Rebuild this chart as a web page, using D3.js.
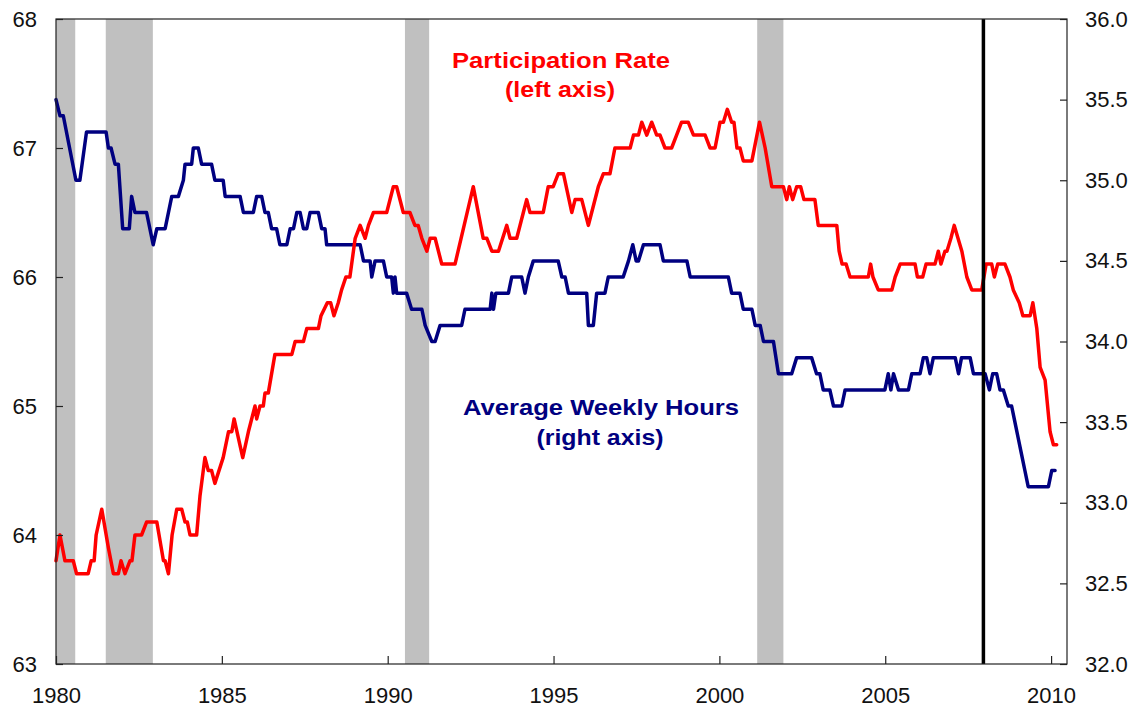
<!DOCTYPE html>
<html>
<head>
<meta charset="utf-8">
<script src="https://cdn.jsdelivr.net/npm/d3@7"></script>
<style>
  html, body { margin: 0; padding: 0; background: #fff; }
  svg { display: block; font-family: "Liberation Sans", Arial, sans-serif; }
</style>
</head>
<body>
<svg id="chart" width="1138" height="709"></svg>
<script>
// ---------- DATA ----------
const xTickYears = [1980, 1985, 1990, 1995, 2000, 2005, 2010];
const leftTicks = [63, 64, 65, 66, 67, 68];
const rightTicks = [32.0, 32.5, 33.0, 33.5, 34.0, 34.5, 35.0, 35.5, 36.0];

// recession periods [start, end] (decimal years)
const recessions = [[1980.0, 1980.58], [1981.5, 1982.92], [1990.52, 1991.25], [2001.14, 2001.93]];
const recessionStartLine = 2007.96;

// Labour force participation rate (%), left axis: [decimal year, value]
const participationRate = [
  [1980.00, 63.8], [1980.12, 64.0], [1980.27, 63.8], [1980.52, 63.8], [1980.62, 63.7], [1980.97, 63.7],
  [1981.06, 63.8], [1981.15, 63.8], [1981.21, 64.0], [1981.38, 64.2], [1981.58, 63.9], [1981.73, 63.7],
  [1981.88, 63.7], [1981.96, 63.8], [1982.08, 63.7], [1982.23, 63.8], [1982.29, 63.8], [1982.38, 64.0],
  [1982.58, 64.0], [1982.73, 64.1], [1983.04, 64.1], [1983.24, 63.8], [1983.29, 63.8], [1983.39, 63.7],
  [1983.50, 64.0], [1983.64, 64.2], [1983.79, 64.2], [1983.89, 64.1], [1983.96, 64.1], [1984.04, 64.0],
  [1984.24, 64.0], [1984.34, 64.3], [1984.49, 64.6], [1984.59, 64.5], [1984.69, 64.5], [1984.79, 64.4],
  [1985.04, 64.6], [1985.20, 64.8], [1985.30, 64.8], [1985.37, 64.9], [1985.63, 64.6], [1985.80, 64.8],
  [1986.00, 65.0], [1986.05, 64.9], [1986.15, 65.0], [1986.25, 65.0], [1986.30, 65.1], [1986.40, 65.1],
  [1986.60, 65.4], [1987.11, 65.4], [1987.21, 65.5], [1987.46, 65.5], [1987.56, 65.6], [1987.91, 65.6],
  [1987.99, 65.7], [1988.18, 65.8], [1988.28, 65.8], [1988.38, 65.7], [1988.51, 65.8], [1988.61, 65.9],
  [1988.74, 66.0], [1988.86, 66.0], [1989.02, 66.3], [1989.17, 66.4], [1989.32, 66.3], [1989.42, 66.4],
  [1989.57, 66.5], [1989.97, 66.5], [1990.17, 66.7], [1990.27, 66.7], [1990.47, 66.5], [1990.67, 66.5],
  [1990.82, 66.4], [1990.92, 66.4], [1991.03, 66.3], [1991.18, 66.2], [1991.28, 66.3], [1991.43, 66.3],
  [1991.63, 66.1], [1992.03, 66.1], [1992.58, 66.7], [1992.88, 66.3], [1992.99, 66.3], [1993.14, 66.2],
  [1993.34, 66.2], [1993.59, 66.4], [1993.69, 66.3], [1993.89, 66.3], [1994.09, 66.5], [1994.19, 66.6],
  [1994.29, 66.5], [1994.69, 66.5], [1994.84, 66.7], [1994.99, 66.7], [1995.14, 66.8], [1995.30, 66.8],
  [1995.55, 66.5], [1995.65, 66.6], [1995.85, 66.6], [1996.05, 66.4], [1996.15, 66.5], [1996.35, 66.7],
  [1996.50, 66.8], [1996.70, 66.8], [1996.85, 67.0], [1997.31, 67.0], [1997.41, 67.1], [1997.56, 67.1],
  [1997.66, 67.2], [1997.81, 67.1], [1997.96, 67.2], [1998.11, 67.1], [1998.21, 67.1], [1998.36, 67.0],
  [1998.56, 67.0], [1998.71, 67.1], [1998.86, 67.2], [1999.06, 67.2], [1999.22, 67.1], [1999.57, 67.1],
  [1999.72, 67.0], [1999.87, 67.0], [2000.02, 67.2], [2000.12, 67.2], [2000.24, 67.3], [2000.37, 67.2],
  [2000.44, 67.2], [2000.53, 67.0], [2000.62, 67.0], [2000.72, 66.9], [2000.98, 66.9], [2001.21, 67.2],
  [2001.38, 67.0], [2001.58, 66.7], [2001.93, 66.7], [2002.03, 66.6], [2002.11, 66.7], [2002.21, 66.6],
  [2002.33, 66.7], [2002.45, 66.7], [2002.55, 66.6], [2002.88, 66.6], [2002.98, 66.4], [2003.54, 66.4],
  [2003.61, 66.2], [2003.70, 66.1], [2003.82, 66.1], [2003.94, 66.0], [2004.49, 66.0], [2004.56, 66.1],
  [2004.63, 66.0], [2004.79, 65.9], [2005.20, 65.9], [2005.30, 66.0], [2005.45, 66.1], [2005.90, 66.1],
  [2005.97, 66.0], [2006.13, 66.0], [2006.23, 66.1], [2006.50, 66.1], [2006.60, 66.2], [2006.68, 66.1],
  [2006.80, 66.2], [2006.86, 66.2], [2006.98, 66.3], [2007.08, 66.4], [2007.31, 66.2], [2007.46, 66.0],
  [2007.61, 65.9], [2007.91, 65.9], [2008.04, 66.1], [2008.21, 66.1], [2008.29, 66.0], [2008.39, 66.1],
  [2008.61, 66.1], [2008.76, 66.0], [2008.86, 65.9], [2009.04, 65.8], [2009.15, 65.7], [2009.37, 65.7],
  [2009.45, 65.8], [2009.57, 65.6], [2009.67, 65.3], [2009.82, 65.2], [2009.97, 64.8], [2010.07, 64.7],
  [2010.17, 64.7]
];

// Average weekly hours, right axis: [decimal year, value]
const weeklyHours = [
  [1980.00, 35.5], [1980.12, 35.4], [1980.22, 35.4], [1980.60, 35.0], [1980.72, 35.0], [1980.92, 35.3],
  [1981.51, 35.3], [1981.58, 35.2], [1981.66, 35.2], [1981.78, 35.1], [1981.88, 35.1], [1982.01, 34.7],
  [1982.21, 34.7], [1982.28, 34.9], [1982.38, 34.8], [1982.73, 34.8], [1982.83, 34.7], [1982.93, 34.6],
  [1983.04, 34.7], [1983.29, 34.7], [1983.49, 34.9], [1983.69, 34.9], [1983.84, 35.0], [1983.89, 35.1],
  [1984.09, 35.1], [1984.14, 35.2], [1984.29, 35.2], [1984.39, 35.1], [1984.69, 35.1], [1984.79, 35.0],
  [1985.04, 35.0], [1985.10, 34.9], [1985.55, 34.9], [1985.65, 34.8], [1985.95, 34.8], [1986.05, 34.9],
  [1986.20, 34.9], [1986.30, 34.8], [1986.40, 34.8], [1986.50, 34.7], [1986.65, 34.7], [1986.75, 34.6],
  [1986.96, 34.6], [1987.06, 34.7], [1987.16, 34.7], [1987.26, 34.8], [1987.36, 34.8], [1987.46, 34.7],
  [1987.56, 34.7], [1987.66, 34.8], [1987.91, 34.8], [1988.01, 34.7], [1988.11, 34.7], [1988.16, 34.6],
  [1989.17, 34.6], [1989.27, 34.5], [1989.47, 34.5], [1989.52, 34.4], [1989.62, 34.5], [1989.87, 34.5],
  [1989.97, 34.4], [1990.12, 34.4], [1990.17, 34.3], [1990.22, 34.4], [1990.27, 34.3], [1990.57, 34.3],
  [1990.72, 34.2], [1991.03, 34.2], [1991.13, 34.1], [1991.33, 34.0], [1991.43, 34.0], [1991.58, 34.1],
  [1992.23, 34.1], [1992.33, 34.2], [1993.09, 34.2], [1993.14, 34.3], [1993.19, 34.2], [1993.26, 34.3],
  [1993.64, 34.3], [1993.74, 34.4], [1994.04, 34.4], [1994.14, 34.3], [1994.24, 34.4], [1994.39, 34.5],
  [1995.14, 34.5], [1995.25, 34.4], [1995.35, 34.4], [1995.45, 34.3], [1996.00, 34.3], [1996.05, 34.1],
  [1996.20, 34.1], [1996.30, 34.3], [1996.55, 34.3], [1996.65, 34.4], [1997.10, 34.4], [1997.26, 34.5],
  [1997.39, 34.6], [1997.49, 34.5], [1997.56, 34.5], [1997.71, 34.6], [1998.21, 34.6], [1998.31, 34.5],
  [1999.02, 34.5], [1999.12, 34.4], [2000.27, 34.4], [2000.37, 34.3], [2000.62, 34.3], [2000.72, 34.2],
  [2000.98, 34.2], [2001.08, 34.1], [2001.23, 34.1], [2001.33, 34.0], [2001.63, 34.0], [2001.78, 33.8],
  [2002.18, 33.8], [2002.33, 33.9], [2002.78, 33.9], [2002.93, 33.8], [2003.03, 33.8], [2003.13, 33.7],
  [2003.33, 33.7], [2003.44, 33.6], [2003.69, 33.6], [2003.79, 33.7], [2004.99, 33.7], [2005.09, 33.8],
  [2005.17, 33.7], [2005.25, 33.8], [2005.40, 33.7], [2005.70, 33.7], [2005.80, 33.8], [2006.05, 33.8],
  [2006.15, 33.9], [2006.25, 33.9], [2006.35, 33.8], [2006.45, 33.9], [2007.11, 33.9], [2007.21, 33.8],
  [2007.30, 33.9], [2007.56, 33.9], [2007.66, 33.8], [2008.01, 33.8], [2008.14, 33.7], [2008.24, 33.8],
  [2008.36, 33.8], [2008.46, 33.7], [2008.56, 33.7], [2008.71, 33.6], [2008.81, 33.6], [2008.91, 33.5],
  [2009.01, 33.4], [2009.11, 33.3], [2009.21, 33.2], [2009.31, 33.1], [2009.92, 33.1], [2010.02, 33.2],
  [2010.12, 33.2]
];

// ---------- CHART ----------
const svg = d3.select("#chart");
const plot = { left: 56, right: 1067, top: 19, bottom: 664 };
const font = '"Liberation Sans", Arial, sans-serif';

const x = d3.scaleLinear().domain([1980, 2010.48]).range([plot.left, plot.right]);
const yL = d3.scaleLinear().domain([63, 68]).range([plot.bottom, plot.top]);
const yR = d3.scaleLinear().domain([32, 36]).range([plot.bottom, plot.top]);

// recession shading
svg.append("g").selectAll("rect").data(recessions).join("rect")
  .attr("x", d => x(d[0]))
  .attr("width", d => x(d[1]) - x(d[0]))
  .attr("y", plot.top)
  .attr("height", plot.bottom - plot.top)
  .attr("fill", "#c0c0c0");

// lines
const lineR = d3.line().x(d => x(d[0])).y(d => yR(d[1]));
const lineL = d3.line().x(d => x(d[0])).y(d => yL(d[1]));

svg.append("path").datum(weeklyHours)
  .attr("d", lineR).attr("fill", "none")
  .attr("stroke", "#000080").attr("stroke-width", 3.5)
  .attr("stroke-linejoin", "round").attr("stroke-linecap", "round");

svg.append("path").datum(participationRate)
  .attr("d", lineL).attr("fill", "none")
  .attr("stroke", "#ff0000").attr("stroke-width", 3.5)
  .attr("stroke-linejoin", "round").attr("stroke-linecap", "round");

// vertical recession-start marker
svg.append("line")
  .attr("x1", x(recessionStartLine)).attr("x2", x(recessionStartLine))
  .attr("y1", plot.top).attr("y2", plot.bottom)
  .attr("stroke", "#000").attr("stroke-width", 3.5);

// frame
svg.append("rect")
  .attr("x", plot.left).attr("y", plot.top)
  .attr("width", plot.right - plot.left).attr("height", plot.bottom - plot.top)
  .attr("fill", "none").attr("stroke", "#222").attr("stroke-width", 1.2);

// axes
function styleAxis(g) {
  g.select(".domain").remove();
  g.selectAll(".tick line").attr("stroke", "#222").attr("stroke-width", 1.2);
  g.selectAll(".tick text").attr("fill", "#111")
    .style("font-family", font).style("font-size", "22px");
}

svg.append("g").attr("transform", `translate(${plot.left},0)`)
  .call(d3.axisLeft(yL).tickValues(leftTicks).tickFormat(d3.format("d"))
        .tickSizeInner(-7).tickSizeOuter(0).tickPadding(19))
  .call(styleAxis);

svg.append("g").attr("transform", `translate(${plot.right},0)`)
  .call(d3.axisRight(yR).tickValues(rightTicks).tickFormat(d3.format(".1f"))
        .tickSizeInner(-7).tickSizeOuter(0).tickPadding(18))
  .call(styleAxis);

svg.append("g").attr("transform", `translate(0,${plot.bottom})`)
  .call(d3.axisBottom(x).tickValues(xTickYears).tickFormat(d3.format("d"))
        .tickSizeInner(-8).tickSizeOuter(0).tickPadding(23))
  .call(styleAxis);

// series labels
function label(text, cx, y, color, width) {
  svg.append("text")
    .attr("x", cx).attr("y", y)
    .attr("text-anchor", "middle")
    .attr("fill", color)
    .attr("textLength", width)
    .attr("lengthAdjust", "spacingAndGlyphs")
    .style("font-family", font).style("font-size", "22px").style("font-weight", "bold")
    .text(text);
}
label("Participation Rate", 561, 68, "#ff0000", 218);
label("(left axis)", 560, 97, "#ff0000", 110);
label("Average Weekly Hours", 601, 415, "#000080", 276);
label("(right axis)", 600, 445, "#000080", 127);
</script>
</body>
</html>
